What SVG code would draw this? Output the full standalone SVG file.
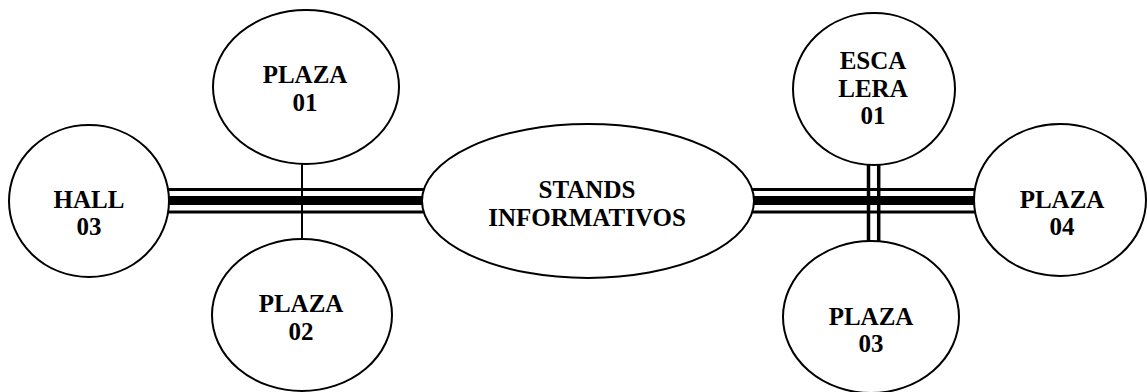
<svg xmlns="http://www.w3.org/2000/svg" width="1147" height="392" viewBox="0 0 1147 392">
<style>
.n{fill:#fff;stroke:#000;stroke-width:2}
.t{font-family:"Liberation Serif","Times New Roman",serif;font-weight:bold;font-size:25px;fill:#000;text-anchor:middle}
.thin{stroke:#000;stroke-width:3;fill:none}
.thick{stroke:#000;stroke-width:9;fill:none}
</style>
<rect width="1147" height="392" fill="#fff"/>
<g id="connectors">
<line class="thin" x1="160" y1="189.5" x2="430" y2="189.5"/>
<line class="thick" x1="160" y1="200.5" x2="430" y2="200.5"/>
<line class="thin" x1="160" y1="212" x2="430" y2="212"/>
<line class="thin" x1="745" y1="189.5" x2="980" y2="189.5"/>
<line class="thick" x1="745" y1="200.5" x2="980" y2="200.5"/>
<line class="thin" x1="745" y1="212" x2="980" y2="212"/>
<line x1="302" y1="160" x2="302" y2="245" stroke="#000" stroke-width="2"/>
<line x1="868.5" y1="160" x2="868.5" y2="245" stroke="#000" stroke-width="3.5"/>
<line x1="878.7" y1="160" x2="878.7" y2="245" stroke="#000" stroke-width="3.5"/>
</g>
<g id="hall03"><ellipse class="n" cx="89" cy="201" rx="80" ry="76"/><text class="t" x="89" y="208">HALL</text><text class="t" x="89" y="235">03</text></g>
<g id="plaza01"><ellipse class="n" cx="306" cy="87" rx="93" ry="77"/><text class="t" x="305" y="83">PLAZA</text><text class="t" x="305" y="111">01</text></g>
<g id="plaza02"><ellipse class="n" cx="302" cy="315" rx="90" ry="76"/><text class="t" x="301" y="312">PLAZA</text><text class="t" x="301" y="340">02</text></g>
<g id="stands"><ellipse class="n" cx="588" cy="201" rx="166" ry="77"/><text class="t" x="587" y="198">STANDS</text><text class="t" x="587" y="226">INFORMATIVOS</text></g>
<g id="escalera01"><ellipse class="n" cx="874" cy="89" rx="81" ry="76"/><text class="t" x="873" y="69">ESCA</text><text class="t" x="873" y="97">LERA</text><text class="t" x="873" y="124">01</text></g>
<g id="plaza03"><ellipse class="n" cx="871" cy="317" rx="88" ry="76"/><text class="t" x="871" y="325">PLAZA</text><text class="t" x="871" y="352">03</text></g>
<g id="plaza04"><ellipse class="n" cx="1060" cy="200" rx="86" ry="76"/><text class="t" x="1062" y="208">PLAZA</text><text class="t" x="1062" y="235">04</text></g>
</svg>
